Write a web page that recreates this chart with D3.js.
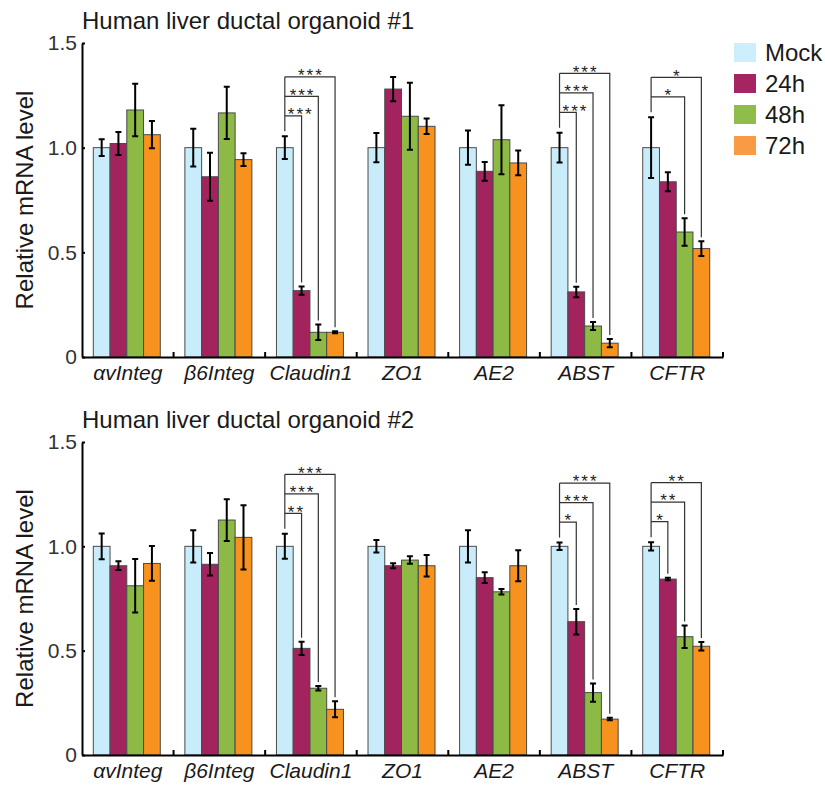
<!DOCTYPE html>
<html lang="en">
    <head>
        <meta charset="utf-8">
        <title>Relative mRNA level</title>
        <script src="https://d3js.org/d3.v7.min.js"></script>
        <style>
            body { margin: 0; background: #fff; }
            svg { font-family: "Liberation Sans", Arial, sans-serif; }
            .title { font-size: 24px; fill: #1a1a1a; }
            .ylabel { font-size: 24px; fill: #1a1a1a; }
            .yaxis text { font-size: 21px; fill: #333; }
            .xaxis text { font-size: 21px; font-style: italic; fill: #1a1a1a; }
            .legend text { font-size: 24px; fill: #1a1a1a; }
            .bar { stroke: #4a4a4a; stroke-width: 1; }
            .err { stroke: #000; stroke-width: 2; fill: none; }
            .sig { stroke: #333; stroke-width: 1.2; fill: none; }
            .stars { font-size: 17px; letter-spacing: 2px; fill: #222; text-anchor: middle; }
        </style>
    </head>
    <body>
        <div id="chart"></div>
        <script>

            // categories and series
            var genes = ["αvInteg", "β6Integ", "Claudin1", "ZO1", "AE2", "ABST", "CFTR"];
            var series = ["Mock", "24h", "48h", "72h"];
            var yTicks = [0, 0.5, 1.0, 1.5];
            var yTickLabels = ["0", "0.5", "1.0", "1.5"];

            // organoid #1
            var mock1    = [1, 1, 1, 1, 1, 1, 1];
            var mockErr1 = [0.04, 0.09, 0.054, 0.07, 0.082, 0.071, 0.145];
            var h24_1    = [1.02, 0.861, 0.317, 1.28, 0.887, 0.311, 0.837];
            var h24Err1  = [0.055, 0.115, 0.02, 0.058, 0.045, 0.025, 0.045];
            var h48_1    = [1.18, 1.166, 0.118, 1.15, 1.038, 0.148, 0.597];
            var h48Err1  = [0.125, 0.125, 0.037, 0.16, 0.165, 0.019, 0.066];
            var h72_1    = [1.062, 0.943, 0.118, 1.102, 0.927, 0.066, 0.518];
            var h72Err1  = [0.065, 0.03, 0.005, 0.037, 0.059, 0.02, 0.035];

            // organoid #2
            var mock2    = [1, 1, 1, 1, 1, 1, 1];
            var mockErr2 = [0.062, 0.077, 0.06, 0.03, 0.077, 0.018, 0.02];
            var h24_2    = [0.907, 0.914, 0.511, 0.907, 0.85, 0.639, 0.843];
            var h24Err2  = [0.021, 0.054, 0.032, 0.012, 0.026, 0.061, 0.006];
            var h48_2    = [0.811, 1.126, 0.32, 0.934, 0.782, 0.299, 0.567];
            var h48Err2  = [0.128, 0.1, 0.011, 0.018, 0.013, 0.044, 0.054];
            var h72_2    = [0.918, 1.043, 0.219, 0.907, 0.907, 0.172, 0.521];
            var h72Err2  = [0.083, 0.154, 0.038, 0.052, 0.074, 0.006, 0.02];

            // significance vs Mock: [gene, series, label]
            var sig1 = [["Claudin1", "24h", "***"], ["Claudin1", "48h", "***"], ["Claudin1", "72h", "***"],
                        ["ABST", "24h", "***"], ["ABST", "48h", "***"], ["ABST", "72h", "***"],
                        ["CFTR", "48h", "*"], ["CFTR", "72h", "*"]];
            var sig2 = [["Claudin1", "24h", "**"], ["Claudin1", "48h", "***"], ["Claudin1", "72h", "***"],
                        ["ABST", "24h", "*"], ["ABST", "48h", "***"], ["ABST", "72h", "***"],
                        ["CFTR", "24h", "*"], ["CFTR", "48h", "**"], ["CFTR", "72h", "**"]];

            var barColors = ["#c9ecfb", "#a3235f", "#8dba45", "#f7921f"];
            var legendColors = ["#cdeefd", "#a42561", "#8fbc4a", "#f99a45"];

            var width = 825, height = 785;
            var svg = d3.select("#chart").append("svg")
                        .attr("width", width)
                        .attr("height", height);

            var x0 = d3.scaleBand().domain(genes).range([82, 723]).padding(0);
            var x1 = d3.scaleBand().domain(series).range([11.3, 78.3]).padding(0);
            var color = d3.scaleOrdinal().domain(series).range(barColors);

            function drawPanel(title, top, bottom, means, errs, sigs) {
                var y = d3.scaleLinear().domain([0, 1.5]).range([bottom, top]);
                var g = svg.append("g");

                var rows = [];
                genes.forEach(function(gene, i) {
                    series.forEach(function(s, j) {
                        rows.push({gene: gene, s: s, v: means[j][i], e: errs[j][i]});
                    });
                });
                function bx(d) { return x0(d.gene) + x1(d.s); }

                // title
                g.append("text").attr("class", "title")
                 .attr("x", 82).attr("y", top - 14)
                 .text(title);

                // bars
                g.selectAll(".bar").data(rows).enter().append("rect")
                 .attr("class", "bar")
                 .attr("x", bx)
                 .attr("y", function(d) { return y(d.v); })
                 .attr("width", x1.bandwidth())
                 .attr("height", function(d) { return y(0) - y(d.v); })
                 .attr("fill", function(d) { return color(d.s); });

                // error bars
                var eb = g.selectAll(".eb").data(rows).enter().append("g").attr("class", "eb");
                eb.append("path").attr("class", "err")
                  .attr("d", function(d) {
                      var cx = bx(d) + x1.bandwidth() / 2, y1 = y(d.v + d.e), y2 = y(d.v - d.e);
                      return "M" + cx + "," + y1 + "V" + y2 +
                             "M" + (cx - 3) + "," + y1 + "H" + (cx + 3) +
                             "M" + (cx - 3) + "," + y2 + "H" + (cx + 3);
                  });

                // significance brackets
                genes.forEach(function(gene, i) {
                    var list = sigs.filter(function(s) { return s[0] === gene; });
                    if (!list.length) return;
                    var mx = x0(gene) + x1("Mock") + x1.bandwidth() / 2;
                    var mTop = y(means[0][i] + errs[0][i]);
                    var levels = list.map(function(s, k) { return mTop - 20.5 - k * 19.5; });
                    g.append("path").attr("class", "sig")
                     .attr("d", "M" + mx + "," + (mTop - 5) + "V" + levels[levels.length - 1]);
                    list.forEach(function(s, k) {
                        var j = series.indexOf(s[1]);
                        var tx = x0(gene) + x1(s[1]) + x1.bandwidth() / 2;
                        var tTop = y(means[j][i] + errs[j][i]);
                        var ly = levels[k];
                        g.append("path").attr("class", "sig")
                         .attr("d", "M" + mx + "," + ly + "H" + tx + "V" + (tTop - 4));
                        var t = g.append("text").attr("class", "stars")
                                 .attr("y", ly + 4.3).text(s[2]);
                        var w = t.node().getComputedTextLength();
                        t.attr("x", Math.max((mx + tx) / 2, mx + 2 + w / 2) + 1);
                    });
                });

                // y axis
                var yAxis = g.append("g").attr("class", "yaxis")
                             .attr("transform", "translate(82,0)")
                             .call(d3.axisLeft(y).tickValues(yTicks)
                                   .tickFormat(function(d, i) { return yTickLabels[i]; })
                                   .tickSize(-3).tickSizeOuter(0).tickPadding(5));
                yAxis.select(".domain").attr("stroke-width", 2);
                yAxis.selectAll(".tick line").attr("stroke-width", 2);

                // x axis
                var xAxis = g.append("g").attr("class", "xaxis")
                             .attr("transform", "translate(0," + bottom + ")")
                             .call(d3.axisBottom(x0).tickSize(0).tickSizeOuter(0));
                xAxis.select(".domain").attr("stroke-width", 2);
                xAxis.selectAll("text").attr("y", 23).attr("dy", null);
                var bounds = genes.slice(1).map(function(gn) { return x0(gn); }).concat([x0.range()[1]]);
                xAxis.selectAll(".bound").data(bounds).enter().append("line")
                     .attr("x1", function(d) { return d; }).attr("x2", function(d) { return d; })
                     .attr("y1", 0).attr("y2", -5)
                     .attr("stroke", "#000").attr("stroke-width", 2);

                // y label
                g.append("text").attr("class", "ylabel")
                 .attr("transform", "translate(33," + ((top + bottom) / 2) + ") rotate(-90)")
                 .attr("text-anchor", "middle")
                 .text("Relative mRNA level");
            }

            drawPanel("Human liver ductal organoid #1", 43, 357,
                      [mock1, h24_1, h48_1, h72_1], [mockErr1, h24Err1, h48Err1, h72Err1], sig1);
            drawPanel("Human liver ductal organoid #2", 442, 755,
                      [mock2, h24_2, h48_2, h72_2], [mockErr2, h24Err2, h48Err2, h72Err2], sig2);

            // legend
            var legend = svg.append("g").attr("class", "legend")
                            .selectAll("g").data(series).enter().append("g")
                            .attr("transform", function(d, i) { return "translate(734," + (43 + i * 31) + ")"; });
            legend.append("rect").attr("width", 22).attr("height", 19)
                  .attr("fill", function(d, i) { return legendColors[i]; });
            legend.append("text").attr("x", 31).attr("y", 18).text(function(d) { return d; });

        </script>
    </body>
</html>
